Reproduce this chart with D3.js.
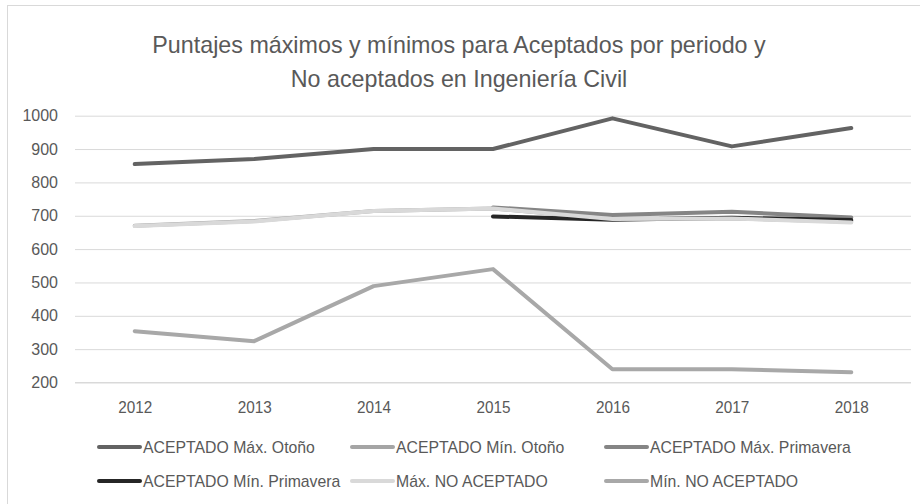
<!DOCTYPE html>
<html>
<head>
<meta charset="utf-8">
<script src="https://cdn.jsdelivr.net/npm/d3@7"></script>
<style>
  html, body { margin: 0; padding: 0; background: #fff; }
  svg { display: block; font-family: 'Liberation Sans', Arial, sans-serif; }
</style>
</head>
<body>
<svg id="chart" width="920" height="504"></svg>
<script>
// Data
const years = ['2012', '2013', '2014', '2015', '2016', '2017', '2018']
const yTicks = [200, 300, 400, 500, 600, 700, 800, 900, 1000]

const maxOtono     = [855, 870, 900, 900, 992, 908, 963]
const minOtono     = [670, 684, 714, 722, 690, 692, 682]
const maxPrimavera = [null, null, null, 725, 702, 712, 695]
const minPrimavera = [null, null, null, 698, 688, 694, 687]
const maxNoAcept   = [669, 683, 714, 722, 690, 692, 680]
const minNoAcept   = [354, 324, 489, 540, 240, 240, 231]

const seriesNames = [
  'ACEPTADO Máx. Otoño', 'ACEPTADO Mín. Otoño', 'ACEPTADO Máx. Primavera',
  'ACEPTADO Mín. Primavera', 'Máx. NO ACEPTADO', 'Mín. NO ACEPTADO'
]
const seriesValues = [maxOtono, minOtono, maxPrimavera, minPrimavera, maxNoAcept, minNoAcept]
const seriesColors = ['#636363', '#a5a5a5', '#858585', '#262626', '#d9d9d9', '#a8a8a8']

const titleLines = [
  'Puntajes máximos y mínimos para Aceptados por periodo y',
  'No aceptados en Ingeniería Civil'
]

// Geometry
const size = { width: 920, height: 504 }
const plot = { left: 75, right: 911, top: 115.7, bottom: 382.5 }
const textColor = '#595959'
const gridColor = '#d9d9d9'

// squeeze Arial-metric text a little so it reads like the narrower original face
const condense = ratio => function () {
  const len = this.getComputedTextLength()
  d3.select(this).attr('textLength', len * ratio).attr('lengthAdjust', 'spacingAndGlyphs')
}

const svg = d3.select('#chart')

svg.append('rect')
  .attr('x', 7.5).attr('y', 5.5)
  .attr('width', size.width).attr('height', size.height + 10)
  .attr('fill', '#fff')
  .attr('stroke', gridColor)

// Title
svg.append('g')
  .selectAll('text')
  .data(titleLines)
  .join('text')
    .attr('x', 459)
    .attr('y', (d, i) => 53 + i * 34)
    .attr('text-anchor', 'middle')
    .attr('fill', textColor)
    .attr('font-size', 24)
    .text(d => d)
    .each(condense(0.97))

// Scales
const x = d3.scalePoint()
  .domain(years)
  .range([plot.left, plot.right])
  .padding(0.5)

const y = d3.scaleLinear()
  .domain([200, 1000])
  .range([plot.bottom, plot.top])

// Grid + y axis
svg.append('g')
  .attr('transform', 'translate(' + plot.left + ',0)')
  .call(d3.axisLeft(y).tickValues(yTicks).tickFormat(d3.format('d'))
    .tickSize(-(plot.right - plot.left)).tickPadding(17))
  .call(g => g.select('.domain').remove())
  .call(g => g.selectAll('.tick line').attr('stroke', gridColor).attr('stroke-width', 1))
  .call(g => g.selectAll('.tick text')
    .attr('fill', textColor)
    .attr('font-size', 16)
    .attr('font-family', "'Liberation Sans', Arial, sans-serif"))

// x axis
svg.append('g')
  .attr('transform', 'translate(0,' + plot.bottom + ')')
  .call(d3.axisBottom(x).tickSize(0).tickPadding(18))
  .call(g => g.select('.domain').attr('stroke', gridColor).attr('d', 'M' + plot.left + ',0H' + plot.right))
  .call(g => g.selectAll('.tick text')
    .attr('fill', textColor)
    .attr('font-size', 17)
    .attr('font-family', "'Liberation Sans', Arial, sans-serif")
    .each(condense(0.9)))

// Lines
const line = d3.line()
  .defined(d => d.v !== null)
  .x(d => x(d.year))
  .y(d => y(d.v))

svg.append('g')
  .selectAll('path')
  .data(seriesValues.map((vals, i) => ({ i: i, pts: vals.map((v, j) => ({ year: years[j], v: v })) })))
  .join('path')
    .attr('d', d => line(d.pts))
    .attr('fill', 'none')
    .attr('stroke', d => seriesColors[d.i])
    .attr('stroke-width', 4)
    .attr('stroke-linejoin', 'round')
    .attr('stroke-linecap', 'round')

// Legend
const legendCols = [98, 351, 605]
const legendRows = [447, 481]
const legend = svg.append('g')
  .selectAll('g')
  .data(seriesNames)
  .join('g')
    .attr('transform', (d, i) => 'translate(' + legendCols[i % 3] + ',' + legendRows[Math.floor(i / 3)] + ')')

legend.append('line')
  .attr('x1', 1).attr('x2', 42)
  .attr('y1', 0).attr('y2', 0)
  .attr('stroke', (d, i) => seriesColors[i])
  .attr('stroke-width', 4)
  .attr('stroke-linecap', 'round')

legend.append('text')
  .attr('x', 45)
  .attr('dy', '0.35em')
  .attr('fill', textColor)
  .attr('font-size', 17)
  .text(d => d)
  .each(condense(0.93))
</script>
</body>
</html>
